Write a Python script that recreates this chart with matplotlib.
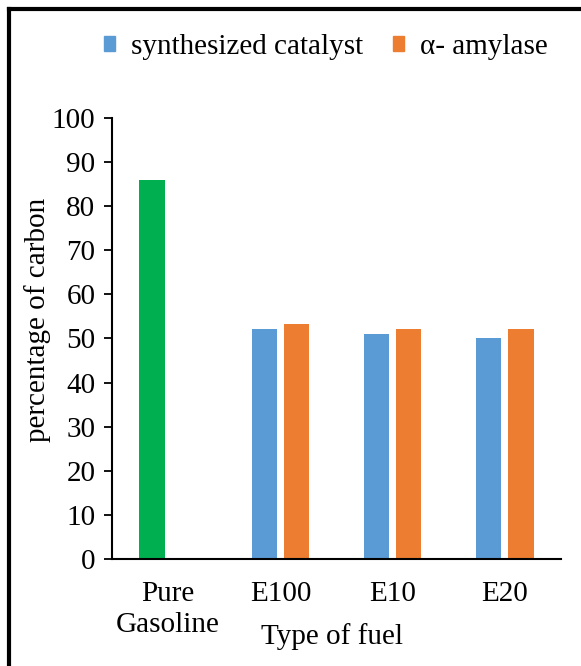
import numpy as np
import matplotlib
matplotlib.use("Agg")
import matplotlib.pyplot as plt
from matplotlib.patches import Patch
from matplotlib.lines import Line2D

plt.rcParams['font.family'] = ['Liberation Serif', 'DejaVu Serif']

fuels = ['Pure\nGasoline', 'E100', 'E10', 'E20']
synthesized = [86.0, 52.2, 51.1, 50.1]
amylase = [np.nan, 53.4, 52.1, 52.1]
yticks = list(range(0, 101, 10))

blue = '#5B9BD5'
orange = '#ED7D31'
green = '#00B050'
fs = 21

fig = plt.figure(figsize=(5.81, 6.66), dpi=100)
ax = fig.add_axes([0.1928, 0.1607, 0.7728, 0.6621])

x = np.arange(len(fuels))
w = 0.225
off = 0.143
syn_colors = [green] + [blue] * (len(fuels) - 1)
ax.bar(x - off, synthesized, w, color=syn_colors)
ax.bar(x + off, amylase, w, color=orange)

ax.set_xlim(-0.5, len(fuels) - 0.5)
ax.set_ylim(0, 100)
ax.set_yticks(yticks)
ax.set_xticks(x)
ax.set_xticklabels(fuels, fontsize=fs, linespacing=1.27)
ax.tick_params(axis='y', labelsize=fs, length=6, width=1.3, direction='out', pad=6)
ax.tick_params(axis='x', length=0, pad=15.5)
for s in ['top', 'right']:
    ax.spines[s].set_visible(False)
ax.spines['left'].set_linewidth(1.5)
ax.spines['bottom'].set_linewidth(1.5)

ax.set_ylabel('percentage of carbon', fontsize=fs)
ax.yaxis.set_label_coords(-0.137, 0.542)
ax.set_xlabel('Type of fuel', fontsize=fs)
ax.xaxis.set_label_coords(0.49, -0.146)

handles = [Patch(color=blue, label='synthesized catalyst'),
           Patch(color=orange, label='\u03b1- amylase')]
fig.legend(handles=handles, loc='center', bbox_to_anchor=(0.561, 1 - 47 / 666),
           ncol=2, frameon=False, fontsize=fs, handlelength=0.4, handleheight=0.4,
           handletextpad=0.55, columnspacing=1.0, borderpad=0)

# outer frame, only left and top edges show in the reference crop
fx = 8.5 / 581
fy = 1 - 8.5 / 666
fig.add_artist(Line2D([fx, fx], [0, fy], transform=fig.transFigure, color='black', lw=3,
                      solid_capstyle='projecting'))
fig.add_artist(Line2D([fx, 1], [fy, fy], transform=fig.transFigure, color='black', lw=3,
                      solid_capstyle='projecting'))

fig.savefig('out.png', dpi=100)
